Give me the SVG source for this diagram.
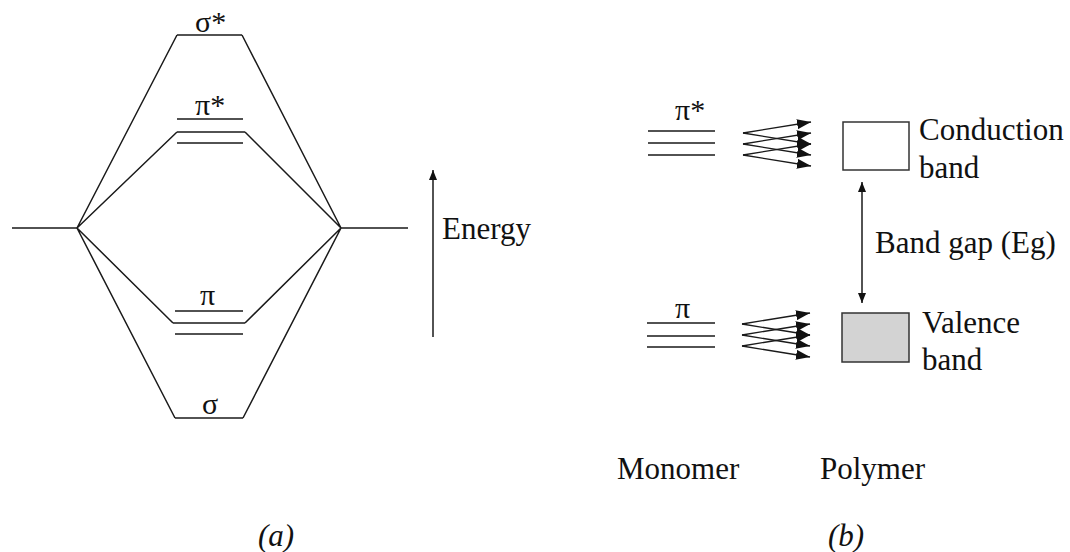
<svg xmlns="http://www.w3.org/2000/svg" width="1070" height="552" viewBox="0 0 1070 552">
<style>
.ln{stroke:#1a1a1a;stroke-width:1.5;fill:none}
.t{font-family:"Liberation Serif","Times New Roman",serif;font-size:31px;fill:#111}
.g{font-family:"Liberation Serif","Times New Roman",serif;font-size:30px;fill:#111}
.it{font-style:italic}
.ar{stroke:#1a1a1a;stroke-width:1.3;fill:none;marker-end:url(#fa)}
</style>
<defs>
<marker id="ah" viewBox="0 0 10 10" refX="10" refY="5" markerWidth="10" markerHeight="10" markerUnits="userSpaceOnUse" orient="auto-start-reverse">
<path d="M0,1 L10,5 L0,9 Z" fill="#111"/>
</marker>
<marker id="fa" viewBox="0 0 14 10" refX="14" refY="5" markerWidth="14" markerHeight="10" markerUnits="userSpaceOnUse" orient="auto">
<path d="M0,0 L14,5 L0,10 Z" fill="#111"/>
</marker>
</defs>

<g id="connectors">
<!-- (a) MO diagram correlation lines -->
<path class="ln" d="M12,228 H77 M341,228 H408"/>
<path class="ln" d="M77,228 L177,35 M77,228 L177,132 M77,228 L173,323 M77,228 L175,418"/>
<path class="ln" d="M341,228 L242,35 M341,228 L245,132 M341,228 L245,323 M341,228 L243,418"/>
<!-- Energy arrow -->
<line class="ln" x1="433" y1="337" x2="433" y2="170" marker-end="url(#ah)"/>
<!-- band gap double arrow -->
<line class="ln" x1="862" y1="182" x2="862" y2="303" marker-start="url(#ah)" marker-end="url(#ah)"/>
<!-- upper fan -->
<path class="ar" d="M743,133 L811,122"/>
<path class="ar" d="M743,133 L811,144"/>
<path class="ar" d="M743,144 L811,133"/>
<path class="ar" d="M743,144 L811,155"/>
<path class="ar" d="M743,155 L811,144"/>
<path class="ar" d="M743,155 L811,166"/>
<!-- lower fan -->
<path class="ar" d="M742,324 L810,313"/>
<path class="ar" d="M742,324 L810,335"/>
<path class="ar" d="M742,335 L810,324"/>
<path class="ar" d="M742,335 L810,346"/>
<path class="ar" d="M742,346 L810,335"/>
<path class="ar" d="M742,346 L810,357"/>
</g>

<g id="sigma-star">
<line class="ln" x1="177" y1="35" x2="242" y2="35"/>
<text class="g" x="195" y="32">σ*</text>
</g>
<g id="pi-star">
<path class="ln" d="M177,119 H243 M177,132 H245 M177,143 H243"/>
<text class="g" x="195" y="115">π*</text>
</g>
<g id="pi">
<path class="ln" d="M175,311 H243 M173,323 H245 M175,334 H243"/>
<text class="g" x="200" y="305">π</text>
</g>
<g id="sigma">
<line class="ln" x1="175" y1="418" x2="243" y2="418"/>
<text class="g" x="202" y="414">σ</text>
</g>
<g id="energy-label">
<text class="t" x="442" y="239">Energy</text>
</g>

<g id="monomer-pi-star">
<path class="ln" d="M648,131 H715 M648,143 H715 M648,155 H715"/>
<text class="g" x="675" y="120">π*</text>
</g>
<g id="monomer-pi">
<path class="ln" d="M647,323 H715 M647,336 H715 M647,347 H715"/>
<text class="g" x="675" y="318">π</text>
</g>
<g id="conduction-band">
<rect x="843" y="122" width="66" height="48" fill="#fff" stroke="#333" stroke-width="1.5"/>
<text class="t" x="919" y="140">Conduction</text>
<text class="t" x="919" y="178">band</text>
</g>
<g id="band-gap">
<text class="t" x="875" y="253">Band gap (Eg)</text>
</g>
<g id="valence-band">
<rect x="842" y="313" width="67" height="49" fill="#d3d3d3" stroke="#333" stroke-width="1.5"/>
<text class="t" x="922" y="333">Valence</text>
<text class="t" x="922" y="370">band</text>
</g>
<g id="labels">
<text class="t" x="617" y="479">Monomer</text>
<text class="t" x="820" y="479">Polymer</text>
<text class="t it" x="258" y="546">(a)</text>
<text class="t it" x="828" y="546">(b)</text>
</g>
</svg>
